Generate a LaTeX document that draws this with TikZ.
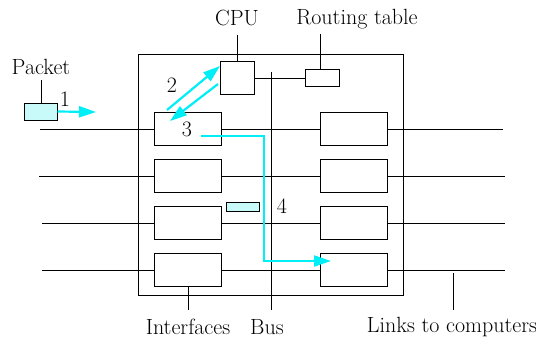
\documentclass[tikz,border=0pt]{standalone}
\usetikzlibrary{arrows.meta}
\begin{document}
\begin{tikzpicture}[x=1pt,y=-1pt,
  ln/.style={black,line width=1pt},
  iface/.style={draw=black,line width=1pt,fill=white,rectangle,inner sep=0pt,minimum width=67pt,minimum height=33pt},
  smallbox/.style={draw=black,line width=1pt,fill=white,rectangle,inner sep=0pt},
  pkt/.style={draw=black,line width=1pt,fill=pktfill,rectangle,inner sep=0pt},
  flow/.style={draw=flowc,line width=2.2pt,-{Triangle[length=17pt,width=11pt]}},
  lbl/.style={font=\fontsize{22}{26}\selectfont,inner sep=0pt}
]
\definecolor{flowc}{RGB}{0,238,245}
\definecolor{pktfill}{RGB}{200,250,250}
\useasboundingbox (0,0) rectangle (536,338);
% outer box
\draw[ln] (138,54) rectangle (403,295);
% bus
\coordinate (bustop) at (271,72);
\coordinate (busbot) at (271,310);
\draw[ln] (bustop) -- (busbot);
% interfaces
\foreach \i/\y in {1/129,2/176,3/223,4/270}{
  \node[iface] (L\i) at (187.5,\y) {};
  \node[iface] (R\i) at (353.5,\y) {};
}
\coordinate (a1) at (40,129); \coordinate (b1) at (503,129);
\coordinate (a2) at (39,176); \coordinate (b2) at (505,176);
\coordinate (a3) at (42,223); \coordinate (b3) at (505,223);
\coordinate (a4) at (42,270); \coordinate (b4) at (505,270);
\foreach \i in {1,2,3,4}{
  \draw[ln] (a\i) -- (L\i.west);
  \draw[ln] (L\i.east) -- (R\i.west);
  \draw[ln] (R\i.east) -- (b\i);
}
% CPU and routing table
\node[smallbox,minimum width=34pt,minimum height=33pt] (cpu) at (237,78) {};
\node[smallbox,minimum width=34pt,minimum height=17pt] (rt) at (322,78) {};
\draw[ln] (cpu.east) -- (rt.west);
% packets
\node[pkt,minimum width=33pt,minimum height=17pt] (p1) at (40.5,111.5) {};
\node[pkt,minimum width=33pt,minimum height=9pt] (p4) at (242.5,206.5) {};
% labels
\node[lbl] (tpacket) at (41,67) {Packet};
\node[lbl] (tcpu) at (237,18) {CPU};
\node[lbl] (trt) at (357,19) {Routing table};
\node[lbl] (tif) at (188,327) {Interfaces};
\node[lbl] (tbus) at (267,327) {Bus};
\node[lbl] (tlinks) at (452,327) {Links to computers};
\node[lbl] (n1) at (65,99) {1};
\node[lbl] (n2) at (172,85) {2};
\node[lbl] (n3) at (187,129) {3};
\node[lbl] (n4) at (282,206) {4};
% ticks
\coordinate (pt) at (41,80);
\draw[ln] (p1.north -| pt) -- (pt);
\coordinate (ct) at (237,35);
\draw[ln] (cpu.north) -- (ct);
\coordinate (rtt) at (320,34);
\draw[ln] (rt.north -| rtt) -- (rtt);
\coordinate (ift) at (188,310);
\draw[ln] (L4.south -| ift) -- (ift);
\coordinate (lkt1) at (453,273);
\coordinate (lkt2) at (453,310);
\draw[ln] (lkt1) -- (lkt2);
% flows
\coordinate (f1) at (96,112);
\draw[flow] (p1.east) -- (f1);
\coordinate (u1) at (167,110); \coordinate (u2) at (220,66);
\draw[flow] (u1) -- (u2);
\coordinate (d1) at (218,84); \coordinate (d2) at (170,121);
\draw[flow] (d1) -- (d2);
\coordinate (s1) at (201,136); \coordinate (s2) at (264,136);
\coordinate (s3) at (264,261); \coordinate (s4) at (331,261);
\draw[flow] (s1) -- (s2) -- (s3) -- (s4);
\end{tikzpicture}
\end{document}
